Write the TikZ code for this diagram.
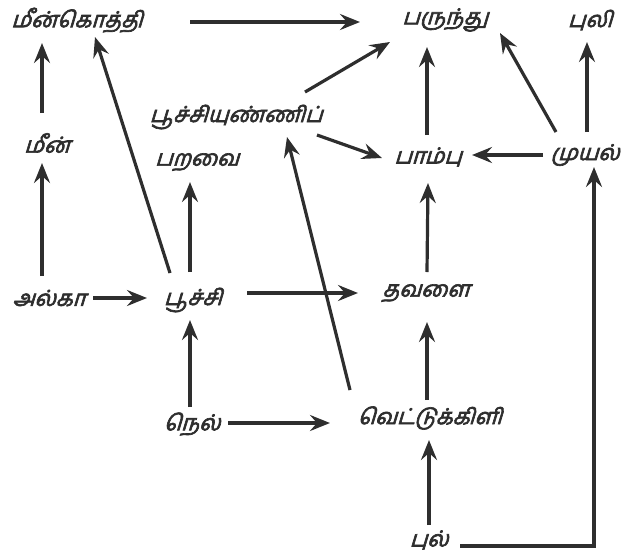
\documentclass[tikz,border=0pt]{standalone}
\usepackage{fontspec}
\newfontfamily\tamil[Script=Tamil,FakeSlant=0.3,FakeBold=3]{Hind Madurai}
\usetikzlibrary{arrows.meta,calc}
\definecolor{ink}{HTML}{2E2E2E}
\tikzset{
  lbl/.style={font=\tamil\fontsize{22}{26}\selectfont, inner sep=0pt, text=ink},
  arr/.style={-{Stealth[length=20pt,width=16pt,inset=7pt]}, line width=3.2pt, draw=ink},
}
\begin{document}
\begin{tikzpicture}[x=1pt,y=-1pt]
\useasboundingbox (0,0) rectangle (622,558);
% nodes
\node[lbl] (kf) at (77,20) {மீன்கொத்தி};
\node[lbl] (eagle) at (445,20) {பருந்து};
\node[lbl] (tiger) at (590,20) {புலி};
\node[lbl] (fish) at (47,143) {மீன்};
\node[lbl] (ib1) at (236,117) {பூச்சியுண்ணிப்};
\node[lbl] (ib2) at (197,162) {பறவை};
\node[lbl] (snake) at (428,157) {பாம்பு};
\node[lbl] (rabbit) at (585,155) {முயல்};
\node[lbl] (algae) at (49,298) {அல்கா};
\node[lbl] (insect) at (193,300) {பூச்சி};
\node[lbl] (frog) at (426,293) {தவளை};
\node[lbl] (paddy) at (192,424) {நெல்};
\node[lbl] (gh) at (430,418) {வெட்டுக்கிளி};
\node[lbl] (grass) at (429,540) {புல்};
% connectors
\draw[arr] ([shift={(113,2)}]kf.center) -- ([shift={(-85,2)}]eagle.center);
\draw[arr] ([shift={(-5,-30)}]fish.center) -- ([shift={(-35,23)}]kf.center);
\draw[arr] ([shift={(-7,-22)}]algae.center) -- ([shift={(-5,20)}]fish.center);
\draw[arr] ([shift={(44,0)}]algae.center) -- ([shift={(-46,-2)}]insect.center);
\draw[arr] ([shift={(-23,-27)}]insect.center) -- ([shift={(18,17)}]kf.center);
\draw[arr] ([shift={(-3,-28)}]insect.center) -- ([shift={(-7,20)}]ib2.center);
\draw[arr] ([shift={(54,-7)}]insect.center) -- ([shift={(-68,0)}]frog.center);
\draw[arr] ([shift={(-2,-17)}]paddy.center) -- ([shift={(-3,20)}]insect.center);
\draw[arr] ([shift={(36,-1)}]paddy.center) -- ([shift={(-100,5)}]gh.center);
\draw[arr] ([shift={(-80,-28)}]gh.center) -- ([shift={(51,20)}]ib1.center);
\draw[arr] ([shift={(-3,-18)}]gh.center) -- ([shift={(1,29)}]frog.center);
\draw[arr] ([shift={(0,-15)}]grass.center) -- ([shift={(-1,22)}]gh.center);
\draw[arr] ([shift={(31,6)}]grass.center) -| ([shift={(9,12)}]rabbit.center);
\draw[arr] ([shift={(1,-21)}]frog.center) -- ([shift={(0,26)}]snake.center);
\draw[arr] ([shift={(-1,-22)}]snake.center) -- ([shift={(-18,27)}]eagle.center);
\draw[arr] ([shift={(69,-25)}]ib1.center) -- ([shift={(-55,22)}]eagle.center);
\draw[arr] ([shift={(81,18)}]ib1.center) -- ([shift={(-46,1)}]snake.center);
\draw[arr] ([shift={(-42,0)}]rabbit.center) -- ([shift={(44,-2)}]snake.center);
\draw[arr] ([shift={(-29,-23)}]rabbit.center) -- ([shift={(55,13)}]eagle.center);
\draw[arr] ([shift={(2,-23)}]rabbit.center) -- ([shift={(-3,22)}]tiger.center);
\end{tikzpicture}
\end{document}
